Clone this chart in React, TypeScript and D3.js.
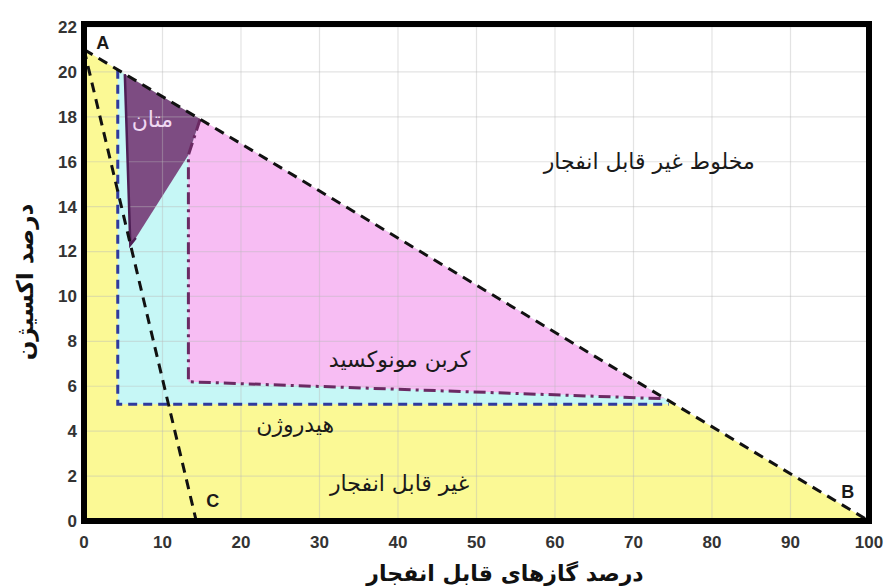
import React from 'react';
import { scaleLinear, line } from 'd3';

type Pt = [number, number];

const xTicks = [0, 10, 20, 30, 40, 50, 60, 70, 80, 90, 100];
const yTicks = [0, 2, 4, 6, 8, 10, 12, 14, 16, 18, 20, 22];

// line A-B bounds the mixtures, A-C is the limiting line
const pointA: Pt = [0, 21];
const pointB: Pt = [100, 0];
const pointC: Pt = [14.3, 0];

const hydrogenZone: Pt[] = [[4.3, 20.1], [4.3, 5.2], [74.5, 5.2], [74.5, 5.36]];
const coZone: Pt[] = [[14.8, 17.9], [13.3, 16.3], [13.3, 6.2], [72, 5.5], [74, 5.46]];
const methaneZone: Pt[] = [[5.2, 19.9], [5.9, 12.3], [6.6, 12.6], [13.3, 16.3], [14.8, 17.9]];

const hydrogenEdge: Pt[] = [[4.3, 20.1], [4.3, 5.2], [74.5, 5.2]];
const coEdge: Pt[] = [[14.8, 17.9], [13.3, 16.3], [13.3, 6.2], [73.5, 5.45]];
const methaneEdge: Pt[] = [[5.2, 19.9], [5.9, 12.3], [6.6, 12.6]];

const labels = [
  { text: 'A', at: [2.4, 21.3] as Pt, kind: 'letter' },
  { text: 'B', at: [97.3, 1.3] as Pt, kind: 'letter' },
  { text: 'C', at: [16.4, 0.9] as Pt, kind: 'letter' },
  { text: 'متان', at: [8.7, 17.9] as Pt, kind: 'methane' },
  { text: 'مخلوط غیر قابل انفجار', at: [72, 16.0] as Pt, kind: 'zone' },
  { text: 'کربن مونوکسید', at: [40.2, 7.2] as Pt, kind: 'zone' },
  { text: 'هیدروژن', at: [26.9, 4.3] as Pt, kind: 'zone' },
  { text: 'غیر قابل انفجار', at: [40.2, 1.7] as Pt, kind: 'zone' },
];

const xTitle = 'درصد گازهای قابل انفجار';
const yTitle = 'درصد اکسیژن';

const dims = { width: 886, height: 588 };

const x = scaleLinear().domain([0, 100]).range([84, 869]);
const y = scaleLinear().domain([0, 22]).range([521, 27]);

const path = line<Pt>().x(d => x(d[0])).y(d => y(d[1]));
const poly = (pts: Pt[]) => path(pts) + 'Z';

const persian = '"DejaVu Sans", sans-serif';
const latin = '"Liberation Sans", Arial, sans-serif';

export default function App() {
  return (
    <div style={{ position: 'absolute', left: 0, top: 0 }}>
      <svg width={dims.width} height={dims.height} style={{ display: 'block', background: '#fff' }}>
        {/* non flammable area under A-B */}
        <path d={poly([pointA, pointB, [0, 0]])} fill="#fbf995" />
        <path d={poly(hydrogenZone)} fill="#c6f7f6" />
        <path d={poly(coZone)} fill="#f7bdf3" />
        <path d={poly(methaneZone)} fill="#7d4c82" />

        {/* grid */}
        {xTicks.map(t => (
          <line key={'gx' + t} x1={x(t)} x2={x(t)} y1={y(0)} y2={y(22)} stroke="#b8b8b8" strokeOpacity={0.4} strokeWidth={1.2} />
        ))}
        {yTicks.map(t => (
          <line key={'gy' + t} x1={x(0)} x2={x(100)} y1={y(t)} y2={y(t)} stroke="#b8b8b8" strokeOpacity={0.4} strokeWidth={1.2} />
        ))}

        {/* zone boundaries */}
        <path d={path(hydrogenEdge)!} fill="none" stroke="#2f3a9e" strokeWidth={3} strokeDasharray="9,6" />
        <path d={path(coEdge)!} fill="none" stroke="#6b2a63" strokeWidth={3} strokeDasharray="12,5,3,5" />
        <path d={path(methaneEdge)!} fill="none" stroke="#4e1f55" strokeWidth={2.5} />
        <path d={path([pointA, pointB])!} fill="none" stroke="#111" strokeWidth={3} strokeDasharray="10,7" />
        <path d={path([pointA, pointC])!} fill="none" stroke="#111" strokeWidth={3} strokeDasharray="10,7" />

        {/* frame */}
        <rect x={x(0)} y={y(22) - 3} width={x(100) - x(0)} height={y(0) - y(22) + 3} fill="none" stroke="#000" strokeWidth={6} />

        {/* ticks */}
        {xTicks.map(t => (
          <text key={'tx' + t} x={x(t)} y={y(0) + 27} textAnchor="middle" fontFamily={latin} fontWeight="bold" fontSize={17} fill="#333">{t}</text>
        ))}
        {yTicks.map(t => (
          <text key={'ty' + t} x={x(0) - 7} y={y(t)} dy="0.35em" textAnchor="end" fontFamily={latin} fontWeight="bold" fontSize={17} fill="#333">{t}</text>
        ))}

        {labels.map(l => (
          <text
            key={l.text}
            x={x(l.at[0])}
            y={y(l.at[1])}
            dy="0.35em"
            textAnchor="middle"
            direction={l.kind === 'letter' ? 'ltr' : 'rtl'}
            fontFamily={l.kind === 'letter' ? latin : persian}
            fontWeight={l.kind === 'letter' ? 'bold' : 'normal'}
            fontSize={l.kind === 'letter' ? 18 : 22}
            fill={l.kind === 'methane' ? '#efd8f2' : '#1a1a1a'}
          >{l.text}</text>
        ))}

        <text x={505} y={573} dy="0.35em" textAnchor="middle" direction="rtl" fontFamily={persian} fontWeight="bold" fontSize={22} fill="#111">{xTitle}</text>
        <text transform="translate(25,282) rotate(-90)" dy="0.35em" textAnchor="middle" direction="rtl" fontFamily={persian} fontWeight="bold" fontSize={23} fill="#111">{yTitle}</text>
      </svg>
    </div>
  );
}
